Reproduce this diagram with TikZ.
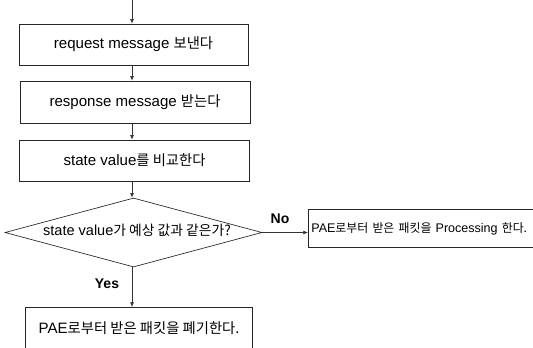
\documentclass[tikz,border=0pt]{standalone}
\usepackage{fontspec}
\setmainfont{Liberation Sans}
\newfontfamily\kofont[Scale=0.95]{Noto Sans CJK KR}
\newcommand\ko[1]{{\kofont #1}}
\usetikzlibrary{arrows.meta,shapes.geometric}
\begin{document}
\begin{tikzpicture}[x=0.75pt,y=-0.75pt,
  line width=0.5pt,
  box/.style={draw=black!85, minimum width=229*0.75pt, minimum height=41*0.75pt, inner sep=0pt, font=\fontsize{11.3}{13}\selectfont},
  arr/.style={draw=black!80, -{Latex[length=3.5pt,width=3pt]}},
  lbl/.style={font=\fontsize{10.5}{12}\selectfont\bfseries, inner sep=0pt}]
\useasboundingbox (0,0) rectangle (533,347);
\clip (0,0) rectangle (533,347);
\coordinate (start) at (132,0);
\node[box] (b1) at (133.5,44.5) {request message \ko{보낸다}};
\node[box, minimum width=230*0.75pt, minimum height=42*0.75pt] (b2) at (135,102) {response message \ko{받는다}};
\node[box, minimum width=230*0.75pt, minimum height=41*0.75pt] (b3) at (134.5,160.5) {state value\ko{를 비교한다}};
\node[diamond, draw=black!85, aspect=3.72, inner sep=0pt, minimum width=257*0.75pt, minimum height=69*0.75pt] (d) at (133.5,232.5) {};
\node[font=\fontsize{10.9}{12}\selectfont, inner sep=0pt] (dt) at (137,230) {state value\ko{가 예상 값과 같은가?}};
\node[box, anchor=west, minimum width=240*0.75pt, minimum height=38*0.75pt, align=left, text width=234*0.75pt, font=\fontsize{9.4}{11}\selectfont] (pr) at (308,228.5) {PAE\ko{로부터 받은 패킷을} Processing \ko{한다.}};
\node[box, anchor=north west, minimum width=227*0.75pt, minimum height=55*0.75pt] (dc) at (25,307) {};
\node[font=\fontsize{11.3}{13}\selectfont, inner sep=0pt] (dct) at (139,328) {PAE\ko{로부터 받은 패킷을 폐기한다.}};
\node[lbl] (no) at (280,219) {No};
\node[lbl] (yes) at (107,284) {Yes};
\draw[arr] (start) -- (b1.north -| start);
\draw[arr] (b1.south -| start) -- (b2.north -| start);
\draw[arr] (b2.south -| start) -- (b3.north -| start);
\draw[arr] (b3.south -| start) -- (d.north -| start);
\draw[arr] (d.east) -- (pr.west |- d.east);
\draw[arr] (d.south -| start) -- (dc.north -| start);
\end{tikzpicture}
\end{document}
